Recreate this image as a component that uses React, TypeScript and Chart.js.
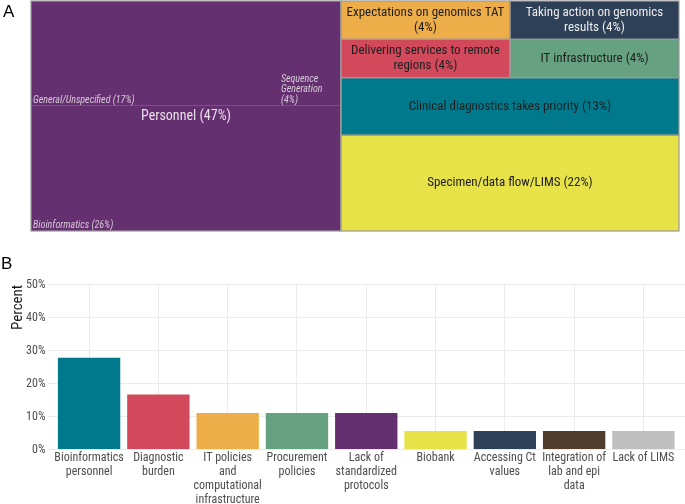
import React, { useEffect, useRef } from "react";
import { Chart, registerables } from "chart.js";

Chart.register(...registerables);

const FONT = "'Roboto Condensed', 'Liberation Sans Narrow', 'DejaVu Sans Condensed', Roboto, sans-serif";

// ---------- Panel A: treemap data ----------
const themeLabels = [
  "Personnel ({p})",
  "Expectations on genomics TAT\n({p})",
  "Taking action on genomics\nresults ({p})",
  "Delivering services to remote\nregions ({p})",
  "IT infrastructure ({p})",
  "Clinical diagnostics takes priority ({p})",
  "Specimen/data flow/LIMS ({p})",
];
const themeCounts = [11, 1, 1, 1, 1, 3, 5];
const themeColors = ["#65306f", "#edae49", "#2e4057", "#d1495b", "#66a182", "#00798c", "#e7e247"];
const themeTextColors = ["rgba(255,255,255,0.85)", "#1e1e1e", "#ececec", "#1e1e1e", "#1e1e1e", "#1e1e1e", "#1e1e1e"];

const personnelSubLabels = ["General/Unspecified ({p})", "Sequence\nGeneration\n({p})", "Bioinformatics ({p})"];
const personnelSubCounts = [4, 1, 6];

// arrangement of the treemap (slice-and-dice structure)
const treeColumns = [[[0]], [[1, 2], [3, 4], [5], [6]]];
const personnelRows = [[0, 1], [2]];

// ---------- Panel B: bar data ----------
const barCategories = [
  ["Bioinformatics", "personnel"],
  ["Diagnostic", "burden"],
  ["IT policies", "and", "computational", "infrastructure"],
  ["Procurement", "policies"],
  ["Lack of", "standardized", "protocols"],
  ["Biobank"],
  ["Accessing Ct", "values"],
  ["Integration of", "lab and epi", "data"],
  ["Lack of LIMS"],
];
const barValues = [27.8, 16.7, 11.1, 11.1, 11.1, 5.6, 5.6, 5.6, 5.6];
const barColors = ["#00798c", "#d1495b", "#edae49", "#66a182", "#65306f", "#e7e247", "#2e4057", "#513d2c", "#bfbfbf"];
const yTicks = [0, 10, 20, 30, 40, 50];

type Rect = { x0: number; x1: number; y0: number; y1: number };

function sliceRows(box: Rect, rows: number[][], counts: number[], out: Rect[]) {
  const rowSums = rows.map((r) => r.reduce((a, i) => a + counts[i], 0));
  const total = rowSums.reduce((a, b) => a + b, 0);
  let y = box.y0;
  rows.forEach((row, ri) => {
    const h = ((box.y1 - box.y0) * rowSums[ri]) / total;
    let x = box.x0;
    row.forEach((idx) => {
      const w = ((box.x1 - box.x0) * counts[idx]) / rowSums[ri];
      out[idx] = { x0: x, x1: x + w, y0: y, y1: y + h };
      x += w;
    });
    y += h;
  });
}

function computeLayout() {
  const total = themeCounts.reduce((a, b) => a + b, 0);
  const rects: Rect[] = [];
  let x = 0;
  treeColumns.forEach((rows) => {
    const colSum = rows.flat().reduce((a, i) => a + themeCounts[i], 0);
    const w = colSum / total;
    sliceRows({ x0: x, x1: x + w, y0: 0, y1: 1 }, rows, themeCounts, rects);
    x += w;
  });
  const subRects: Rect[] = [];
  sliceRows(rects[0], personnelRows, personnelSubCounts, subRects);
  return { rects, subRects, total };
}

function drawLines(ctx: CanvasRenderingContext2D, lines: string[], x: number, y: number, lh: number) {
  lines.forEach((l, i) => ctx.fillText(l, x, y + i * lh));
}

const treemapPlugin = {
  id: "treemapCells",
  afterDraw(chart: any) {
    const { ctx, scales } = chart;
    const xs = scales.x;
    const ys = scales.y;
    const { rects, subRects, total } = computeLayout();
    const px = (r: Rect) => {
      const a = xs.getPixelForValue(r.x0);
      const b = xs.getPixelForValue(r.x1);
      const c = ys.getPixelForValue(r.y0);
      const d = ys.getPixelForValue(r.y1);
      return { l: Math.min(a, b), r: Math.max(a, b), t: Math.min(c, d), b: Math.max(c, d) };
    };
    const subPct = personnelSubCounts.map((c) => Math.round((c / total) * 100));
    const pct = themeCounts.map((c, i) => (i === 0 ? subPct.reduce((a, b) => a + b, 0) : Math.round((c / total) * 100)));
    ctx.save();
    // fills
    rects.forEach((r, i) => {
      const p = px(r);
      ctx.fillStyle = themeColors[i];
      ctx.fillRect(p.l, p.t, p.r - p.l, p.b - p.t);
    });
    // subgroup row separators (faint)
    ctx.strokeStyle = "rgba(255,255,255,0.2)";
    ctx.lineWidth = 0.8;
    const group = px(rects[0]);
    subRects.forEach((r) => {
      const p = px(r);
      if (p.b < group.b - 1) {
        ctx.beginPath();
        ctx.moveTo(p.l, p.b);
        ctx.lineTo(p.r, p.b);
        ctx.stroke();
      }
    });
    // group borders
    ctx.strokeStyle = "#9a9a9a";
    ctx.lineWidth = 1.2;
    rects.forEach((r) => {
      const p = px(r);
      ctx.strokeRect(p.l, p.t, p.r - p.l, p.b - p.t);
    });
    // subgroup labels (bottom-left, italic)
    ctx.font = `italic 10px ${FONT}`;
    ctx.fillStyle = "rgba(255,255,255,0.72)";
    ctx.textAlign = "left";
    ctx.textBaseline = "alphabetic";
    subRects.forEach((r, i) => {
      const p = px(r);
      const lines = personnelSubLabels[i].replace("{p}", subPct[i] + "%").split("\n");
      const lh = 10.5;
      drawLines(ctx, lines, p.l + 2, p.b - 3 - (lines.length - 1) * lh, lh);
    });
    // group labels (centered)
    ctx.textAlign = "center";
    ctx.textBaseline = "middle";
    rects.forEach((r, i) => {
      const p = px(r);
      const size = i === 0 ? 14 : 13;
      ctx.font = `${size}px ${FONT}`;
      ctx.fillStyle = themeTextColors[i];
      const lines = themeLabels[i].replace("{p}", pct[i] + "%").split("\n");
      const lh = 15;
      const cx = (p.l + p.r) / 2;
      const cy = (p.t + p.b) / 2 - ((lines.length - 1) * lh) / 2;
      drawLines(ctx, lines, cx, cy, lh);
    });
    ctx.restore();
  },
};

function Treemap() {
  const ref = useRef<HTMLCanvasElement>(null);
  useEffect(() => {
    const chart = new Chart(ref.current!, {
      type: "scatter",
      data: { datasets: [] },
      options: {
        animation: false,
        responsive: false,
        devicePixelRatio: 1,
        layout: { padding: { left: 31, right: 6, top: 1, bottom: 9 } },
        plugins: { legend: { display: false }, tooltip: { enabled: false } },
        scales: {
          x: { type: "linear", min: 0, max: 1, display: false },
          y: { type: "linear", min: 0, max: 1, reverse: true, display: false },
        },
      },
      plugins: [treemapPlugin],
    } as any);
    return () => chart.destroy();
  }, []);
  return <canvas ref={ref} width={685} height={240} style={{ position: "absolute", left: 0, top: 0 }} />;
}

function Bars() {
  const ref = useRef<HTMLCanvasElement>(null);
  useEffect(() => {
    const chart = new Chart(ref.current!, {
      type: "bar",
      data: {
        datasets: [
          {
            data: barValues.map((v, i) => ({ x: i, y: v })),
            backgroundColor: barColors,
            borderWidth: 0,
            barPercentage: 0.9,
            categoryPercentage: 1,
          },
        ],
      },
      options: {
        animation: false,
        responsive: false,
        devicePixelRatio: 1,
        layout: { padding: { top: 34.7, left: 0, right: 0, bottom: 0 } },
        plugins: { legend: { display: false }, tooltip: { enabled: false } },
        scales: {
          x: {
            type: "linear",
            min: -0.6,
            max: 8.6,
            offset: false,
            afterBuildTicks: (axis: any) => {
              axis.ticks = barCategories.map((_, i) => ({ value: i }));
            },
            afterFit: (s: any) => {
              s.height = 54.5;
            },
            grid: { offset: false, color: "#ebebeb", lineWidth: 1, drawTicks: false },
            border: { display: false },
            ticks: {
              autoSkip: false,
              maxRotation: 0,
              minRotation: 0,
              padding: 2,
              color: "#4d4d4d",
              font: { family: FONT, size: 12, lineHeight: 1.15 },
              callback: (v: any) => barCategories[Math.round(v)] ?? "",
            },
          },
          y: {
            type: "linear",
            min: 0,
            max: 50,
            afterBuildTicks: (axis: any) => {
              const t: any[] = [];
              for (let v = 0; v <= 50; v += 5) t.push({ value: v });
              axis.ticks = t;
            },
            afterFit: (s: any) => {
              s.width = 47.5;
            },
            grid: {
              drawTicks: false,
              color: (c: any) => (c.tick && yTicks.includes(c.tick.value) ? "#ebebeb" : "#f5f5f5"),
              lineWidth: 1,
            },
            border: { display: false },
            ticks: {
              padding: 2,
              color: "#4d4d4d",
              font: { family: FONT, size: 12 },
              callback: (v: any) => (yTicks.includes(v) ? v + "%" : ""),
            },
            title: {
              display: true,
              text: "Percent",
              align: "end",
              color: "#1a1a1a",
              font: { family: FONT, size: 15, lineHeight: 1.2 },
              padding: { top: 9, bottom: 0 },
            },
          },
        },
      },
    } as any);
    return () => chart.destroy();
  }, []);
  return <canvas ref={ref} width={685} height={254} style={{ position: "absolute", left: 0, top: 250 }} />;
}

export default function App() {
  const labelStyle: React.CSSProperties = {
    position: "absolute",
    fontFamily: "'Liberation Sans', Arial, sans-serif",
    fontSize: 17,
    lineHeight: "17px",
    color: "#000",
  };
  return (
    <div style={{ position: "absolute", left: 0, top: 0, width: 685, height: 504, background: "#fff", overflow: "hidden" }}>
      <Treemap />
      <Bars />
      <div style={{ ...labelStyle, left: 3, top: 3 }}>A</div>
      <div style={{ ...labelStyle, left: 1, top: 254.5 }}>B</div>
    </div>
  );
}
